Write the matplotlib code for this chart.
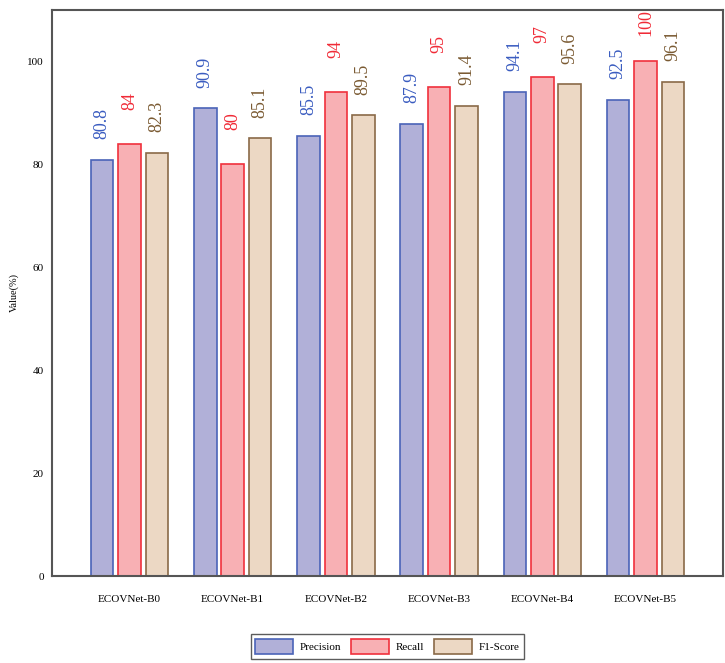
import numpy as np
import matplotlib
matplotlib.use("Agg")
import matplotlib.pyplot as plt

plt.rcParams['font.family'] = ['Liberation Serif', 'DejaVu Serif']

# == Data == #
models = ["ECOVNet-B0", "ECOVNet-B1", "ECOVNet-B2", "ECOVNet-B3", "ECOVNet-B4", "ECOVNet-B5"]
precision = [80.8, 90.9, 85.5, 87.9, 94.1, 92.5]
recall = [84, 80, 94, 95, 97, 100]
f1 = [82.3, 85.1, 89.5, 91.4, 95.6, 96.1]
labels = ["Precision", "Recall", "F1-Score"]

# == Styles == #
fills = ["#b1b0d8", "#f8b0b4", "#ecd8c4"]
edges = ["#4a63b8", "#f0303c", "#8a6a48"]
text_colors = ["#3a5cc0", "#f02a36", "#7a5a32"]

fig = plt.figure(figsize=(7.25, 6.63), dpi=100)
ax = fig.add_axes([52 / 725, 1 - 576 / 663, (723 - 52) / 725, (576 - 10) / 663])

x = np.arange(len(models))
width = 0.22
offset = 0.266

for i, vals in enumerate([precision, recall, f1]):
    pos = x + (i - 1) * offset
    ax.bar(pos, vals, width, color=fills[i], edgecolor=edges[i], linewidth=1.2, label=labels[i])
    for p, v in zip(pos, vals):
        ax.text(p, v + 10.1, f"{v:g}", rotation=90, ha="center", va="top",
                fontsize=13, color=text_colors[i], clip_on=False)

ax.set_xlim(-0.75, 5.75)
ax.set_ylim(0, 110)
ax.set_xticks(x)
ax.set_xticklabels(models, fontsize=8)
ax.set_yticks([0, 20, 40, 60, 80, 100])
ax.tick_params(axis="y", length=0, labelsize=8, pad=6)
ax.tick_params(axis="x", length=0, labelsize=8, pad=14)
ax.set_ylabel("Value(%)", fontsize=7.5, labelpad=6)

for s in ax.spines.values():
    s.set_color("#555555")
    s.set_linewidth(1.5)

leg = ax.legend(loc="upper center", bbox_to_anchor=(0.5, -0.093), ncol=3, fontsize=8,
                frameon=True, fancybox=False, edgecolor="#333333",
                handlelength=3.4, handleheight=1.8, columnspacing=0.9,
                handletextpad=0.6, borderpad=0.4)
leg.get_frame().set_linewidth(1.0)

fig.savefig("out.png", dpi=100)
